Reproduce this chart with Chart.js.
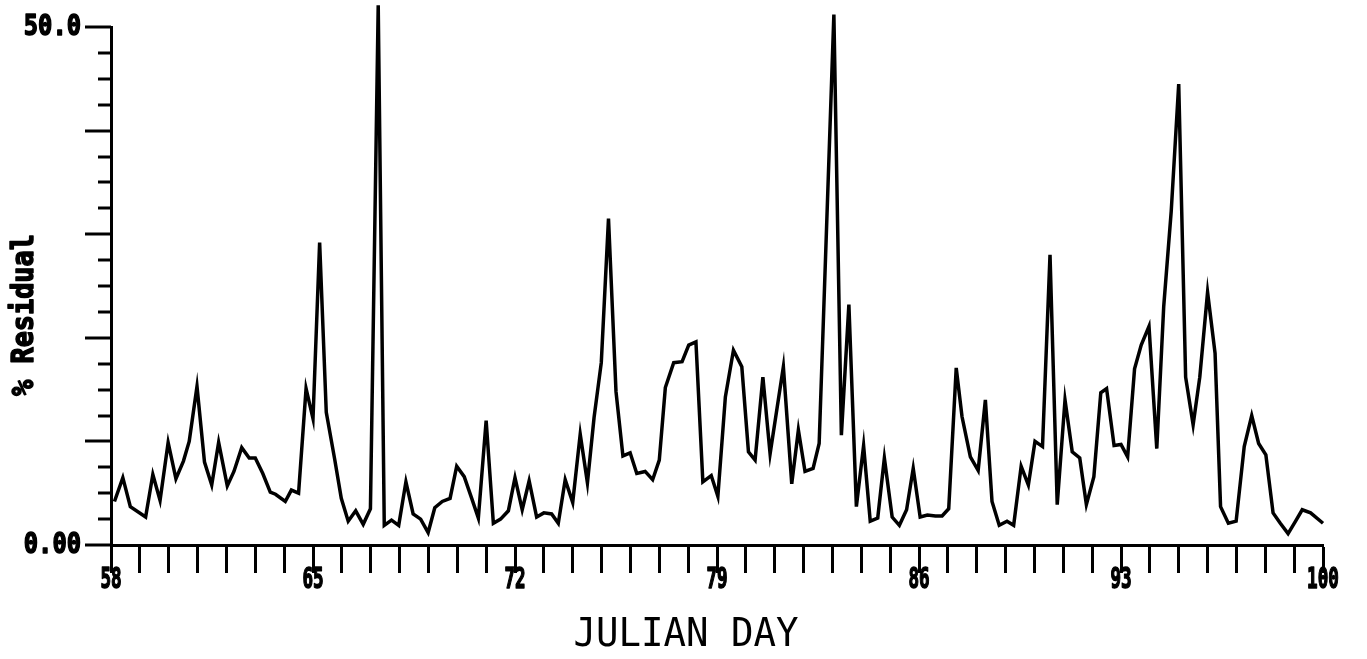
<!DOCTYPE html>
<html>
<head>
<meta charset="utf-8">
<script src="https://cdn.jsdelivr.net/npm/chart.js@4.4.1/dist/chart.umd.min.js"></script>
<style>
  html, body { margin: 0; padding: 0; background: #fff; }
  #wrap { width: 1367px; height: 659px; }
</style>
</head>
<body>
<div id="wrap"><canvas id="chart" width="1367" height="659"></canvas></div>
<script>
// Julian day of each sample
const days = [
  58.12, 58.41, 58.67, 59.20, 59.45, 59.70, 59.98, 60.25, 60.51, 60.71,
  60.98, 61.24, 61.49, 61.73, 62.03, 62.26, 62.53, 62.79, 63.00, 63.26,
  63.52, 63.70, 64.04, 64.25, 64.50, 64.76, 65.00, 65.23, 65.46, 65.75,
  65.98, 66.22, 66.48, 66.74, 66.99, 67.26, 67.47, 67.72, 67.97, 68.22,
  68.47, 68.73, 68.99, 69.22, 69.48, 69.75, 69.98, 70.24, 70.50, 70.73,
  71.00, 71.25, 71.50, 71.77, 72.00, 72.25, 72.49, 72.75, 73.00, 73.27,
  73.50, 73.74, 74.00, 74.26, 74.51, 74.74, 74.99, 75.24, 75.50, 75.74,
  75.99, 76.22, 76.51, 76.77, 77.00, 77.21, 77.50, 77.79, 78.02, 78.27,
  78.51, 78.80, 79.03, 79.29, 79.57, 79.86, 80.09, 80.32, 80.59, 80.84,
  81.07, 81.30, 81.59, 81.82, 82.05, 82.33, 82.54, 83.05, 83.31, 83.57,
  83.83, 84.08, 84.31, 84.57, 84.80, 85.07, 85.32, 85.57, 85.80, 86.04,
  86.29, 86.57, 86.80, 87.03, 87.29, 87.49, 87.78, 88.05, 88.30, 88.53,
  88.78, 89.05, 89.28, 89.54, 89.79, 90.02, 90.28, 90.54, 90.79, 91.06,
  91.31, 91.57, 91.80, 92.06, 92.30, 92.50, 92.76, 93.00, 93.23, 93.47,
  93.70, 93.97, 94.24, 94.48, 94.74, 95.00, 95.24, 95.50, 95.73, 96.00,
  96.26, 96.45, 96.72, 96.99, 97.27, 97.53, 97.77, 98.02, 98.27, 98.52,
  98.79, 99.05, 99.28, 99.57, 100.00
];

// % residual at each sample
const residual = [
  4.2, 6.5, 3.7, 2.7, 6.8, 4.3, 9.9, 6.4, 8.1, 10.0,
  15.3, 8.0, 5.8, 9.9, 5.7, 7.1, 9.4, 8.4, 8.4, 6.9,
  5.1, 4.9, 4.2, 5.3, 5.0, 15.1, 12.2, 29.2, 12.8, 8.3,
  4.5, 2.3, 3.3, 2.0, 3.5, 52.1, 1.9, 2.4, 1.9, 6.1,
  3.0, 2.5, 1.2, 3.6, 4.2, 4.5, 7.6, 6.6, 4.5, 2.6,
  12.0, 2.1, 2.5, 3.3, 6.5, 3.4, 6.2, 2.7, 3.1, 3.0,
  2.1, 6.3, 4.1, 10.7, 6.0, 12.3, 17.6, 31.5, 14.8, 8.6,
  8.9, 6.9, 7.1, 6.3, 8.2, 15.2, 17.6, 17.7, 19.3, 19.6,
  6.1, 6.7, 4.7, 14.3, 18.8, 17.2, 9.0, 8.2, 16.2, 8.8,
  13.0, 17.2, 5.9, 11.1, 7.1, 7.4, 9.8, 51.2, 10.6, 23.2,
  3.7, 9.6, 2.3, 2.6, 8.4, 2.7, 1.9, 3.4, 7.4, 2.7,
  2.9, 2.8, 2.8, 3.5, 17.1, 12.4, 8.5, 7.2, 14.0, 4.2,
  1.9, 2.3, 1.9, 7.6, 5.8, 10.0, 9.5, 28.0, 3.9, 14.0,
  9.0, 8.4, 3.9, 6.6, 14.7, 15.1, 9.6, 9.7, 8.5, 17.0,
  19.3, 21.1, 9.3, 23.0, 32.2, 44.5, 16.2, 11.6, 16.2, 24.4,
  18.5, 3.7, 2.1, 2.3, 9.5, 12.5, 9.8, 8.7, 3.1, 2.1,
  1.1, 2.3, 3.4, 3.1, 2.1
];

const xLabelDays = [58, 65, 72, 79, 86, 93, 100];
const yLabelValues = [0, 50];
const yLabelText = ['0.00', '50.0'];
const yMajorStep = 10;
const yMinorStep = 2.5;

const INK = '#000';

// plotter-ish lettering: mono font, stretched, optionally thickened
function stretchText(ctx, text, x, y, font, sx, sy, align, rot, heavy) {
  ctx.save();
  ctx.translate(x, y);
  if (rot) ctx.rotate(rot);
  ctx.scale(sx, sy);
  ctx.font = font;
  ctx.fillStyle = INK;
  ctx.strokeStyle = INK;
  ctx.textAlign = align || 'center';
  ctx.textBaseline = 'middle';
  ctx.fillText(text, 0, 0);
  if (heavy) {
    ctx.lineWidth = heavy;
    ctx.lineJoin = 'round';
    ctx.strokeText(text, 0, 0);
  }
  ctx.restore();
}

// y ticks (long every 10, short every 2.5) and all the text
const plotterAxes = {
  id: 'plotterAxes',
  afterDraw(chart) {
    const { ctx, chartArea, scales: { x, y } } = chart;
    const left = chartArea.left;
    ctx.save();
    ctx.strokeStyle = INK;
    ctx.lineWidth = 3;
    ctx.lineCap = 'butt';
    for (let v = 0; v <= 50 + 1e-9; v += yMinorStep) {
      const py = Math.round(y.getPixelForValue(v));
      const len = Math.abs(v % yMajorStep) < 1e-6 ? 26 : 13;
      ctx.beginPath();
      ctx.moveTo(left - len, py);
      ctx.lineTo(left, py);
      ctx.stroke();
    }
    ctx.restore();

    yLabelValues.forEach((v, i) => {
      stretchText(ctx, yLabelText[i], 81, y.getPixelForValue(v) + 1,
        "bold 22px 'DejaVu Sans Mono'", 1.08, 1.25, 'right', 0, 1.2);
    });

    xLabelDays.forEach(d => {
      stretchText(ctx, String(d), x.getPixelForValue(d), chartArea.bottom + 36,
        "bold 22px 'DejaVu Sans Mono'", 0.8, 1.3, 'center', 0, 1.2);
    });

    stretchText(ctx, '% Residual', 25, 315,
      "bold 24px 'DejaVu Sans Mono'", 1.12, 1.25, 'center', -Math.PI / 2, 1.2);

    stretchText(ctx, 'JULIAN DAY', 686, 636,
      "34px 'DejaVu Sans Mono'", 1.1, 1.15, 'center');
  }
};

new Chart(document.getElementById('chart'), {
  type: 'line',
  data: {
    datasets: [{
      data: days.map((d, i) => ({ x: d, y: residual[i] })),
      borderColor: INK,
      borderWidth: 3.5,
      pointRadius: 0,
      tension: 0,
      fill: false,
      clip: false,
    }]
  },
  options: {
    responsive: false,
    animation: false,
    devicePixelRatio: 1,
    layout: { padding: { top: 27, right: 44, left: 0, bottom: 0 } },
    plugins: { legend: { display: false }, tooltip: { enabled: false } },
    scales: {
      x: {
        type: 'linear',
        min: 58,
        max: 100,
        afterFit: s => { s.height = 114; },
        ticks: { stepSize: 1, display: false, autoSkip: false },
        grid: {
          drawOnChartArea: false,
          drawTicks: true,
          tickLength: 28,
          tickWidth: 3,
          tickColor: INK,
        },
        border: { display: true, color: INK, width: 3 },
      },
      y: {
        type: 'linear',
        min: 0,
        max: 50,
        afterFit: s => { s.width = 111; },
        ticks: { display: false },
        grid: { display: false, drawTicks: false },
        border: { display: true, color: INK, width: 3 },
      },
    },
  },
  plugins: [plotterAxes],
});
</script>
</body>
</html>
